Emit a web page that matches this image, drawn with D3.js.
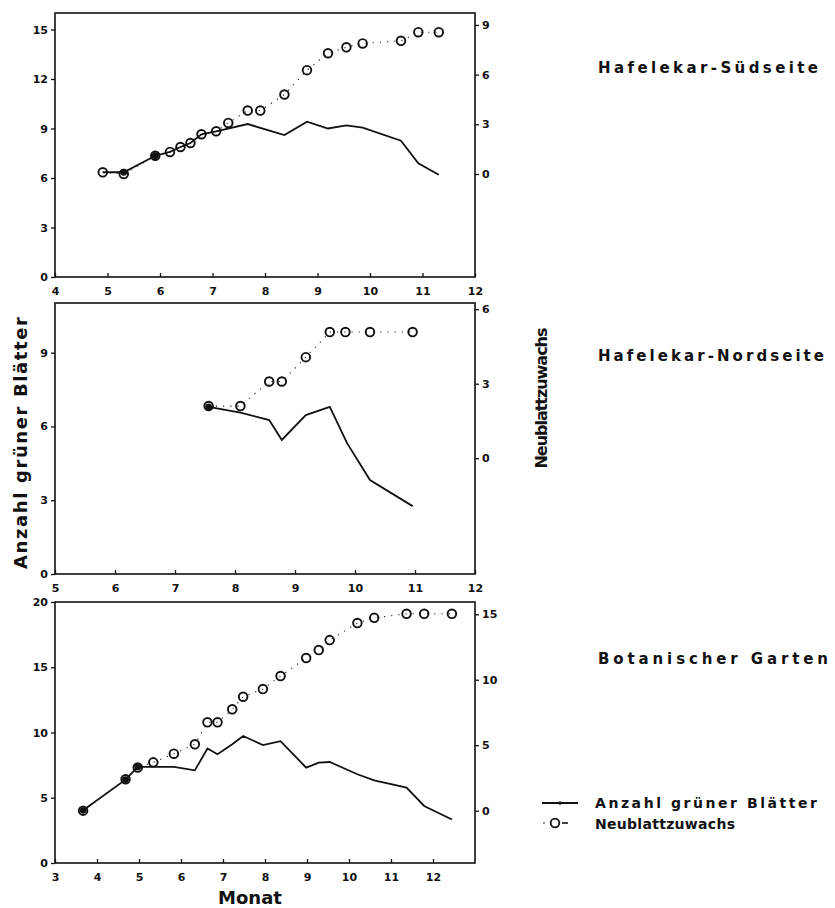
<!DOCTYPE html>
<html><head><meta charset="utf-8">
<script src="https://cdn.jsdelivr.net/npm/d3@7"></script>
<style>
body{margin:0;background:#fff;}
svg{display:block;}
text{font-family:"DejaVu Sans","Liberation Sans",Arial,sans-serif;fill:#111;}
</style></head>
<body><svg id="c" width="835" height="908"></svg>
<script>
// ---------- DATA ----------
// Hafelekar-Südseite
const topLineMonths = [4.91,5.31,5.91,6.19,6.39,6.58,6.79,7.07,7.67,8.37,8.80,9.20,9.55,9.86,10.59,10.92,11.31];
const topLineValues = [6.35,6.35,7.35,7.58,7.88,8.12,8.65,8.83,9.27,8.6,9.41,9.0,9.19,9.05,8.26,6.89,6.2];
const topNewMonths  = [4.91,5.31,5.91,6.19,6.39,6.58,6.79,7.07,7.30,7.67,7.91,8.37,8.80,9.20,9.55,9.86,10.59,10.92,11.31];
const topNewValues  = [0.1,0.0,1.1,1.33,1.63,1.87,2.4,2.58,3.08,3.83,3.83,4.8,6.27,7.29,7.65,7.88,8.04,8.56,8.56];
const topSolid = [5.31,5.91];
// Hafelekar-Nordseite
const midLineMonths = [7.56,8.09,8.57,8.78,9.18,9.58,9.87,10.25,10.96];
const midLineValues = [6.8,6.56,6.26,5.45,6.46,6.8,5.31,3.82,2.76];
const midNewMonths  = [7.56,8.09,8.57,8.78,9.18,9.58,9.84,10.25,10.96];
const midNewValues  = [2.1,2.1,3.09,3.09,4.07,5.08,5.08,5.08,5.08];
const midSolid = [7.56];
// Botanischer Garten
const botLineMonths = [3.67,4.68,4.97,5.83,6.33,6.63,6.87,7.22,7.48,7.95,8.37,8.98,9.28,9.54,10.2,10.6,11.37,11.79,12.45];
const botLineValues = [4.04,6.39,7.36,7.36,7.1,8.77,8.33,9.1,9.73,9.04,9.33,7.31,7.69,7.74,6.8,6.34,5.78,4.37,3.33];
const botNewMonths  = [3.67,4.68,4.97,5.34,5.83,6.33,6.63,6.87,7.22,7.48,7.95,8.37,8.98,9.28,9.54,10.2,10.6,11.37,11.79,12.45];
const botNewValues  = [0.0,2.4,3.3,3.69,4.35,5.07,6.75,6.75,7.74,8.7,9.29,10.28,11.66,12.27,13.03,14.33,14.73,15.04,15.04,15.04];
const botSolid = [3.67,4.68,4.97];
// Ticks
const topXTicks = [4,5,6,7,8,9,10,11,12], topLTicks = [0,3,6,9,12,15], topRTicks = [0,3,6,9];
const midXTicks = [5,6,7,8,9,10,11,12], midLTicks = [0,3,6,9], midRTicks = [0,3,6];
const botXTicks = [3,4,5,6,7,8,9,10,11,12], botLTicks = [0,5,10,15,20], botRTicks = [0,5,10,15];
const titles = ["Hafelekar-Südseite","Hafelekar-Nordseite","Botanischer Garten"];
const legendLabels = ["Anzahl grüner Blätter","Neublattzuwachs"];

// ---------- LAYOUT ----------
const svg = d3.select("#c");
const X0 = 55, X1 = 475;
const panels = [
  {t:13, b:277, xd:[4,12], ld:[0,16], rd:[-6.22,9.72], xt:topXTicks, lt:topLTicks, rt:topRTicks,
   lm:topLineMonths, lv:topLineValues, nm:topNewMonths, nv:topNewValues, solid:topSolid,
   title:titles[0], ty:73, tw:220},
  {t:303, b:574, xd:[5,12], ld:[0,11.02], rd:[-4.66,6.25], xt:midXTicks, lt:midLTicks, rt:midRTicks,
   lm:midLineMonths, lv:midLineValues, nm:midNewMonths, nv:midNewValues, solid:midSolid,
   title:titles[1], ty:361, tw:226},
  {t:602, b:863, xd:[3,13], ld:[0,20], rd:[-4.0,15.94], xt:botXTicks, lt:botLTicks, rt:botRTicks,
   lm:botLineMonths, lv:botLineValues, nm:botNewMonths, nv:botNewValues, solid:botSolid,
   title:titles[2], ty:664, tw:230}
];

panels.forEach(p => {
  const x = d3.scaleLinear().domain(p.xd).range([X0, X1]);
  const yl = d3.scaleLinear().domain(p.ld).range([p.b, p.t]);
  const yr = d3.scaleLinear().domain(p.rd).range([p.b, p.t]);
  const g = svg.append("g");

  const ax = d3.axisBottom(x).tickValues(p.xt).tickSize(-4).tickPadding(10).tickFormat(d3.format("d"));
  const al = d3.axisLeft(yl).tickValues(p.lt).tickSize(4).tickPadding(3).tickFormat(d3.format("d"));
  const ar = d3.axisRight(yr).tickValues(p.rt).tickSize(4).tickPadding(3).tickFormat(d3.format("d"));
  [[ax,`translate(0,${p.b})`],[al,`translate(${X0},0)`],[ar,`translate(${X1},0)`]].forEach(([a,tr]) => {
    const gg = g.append("g").attr("transform", tr).call(a);
    gg.select(".domain").remove();
    gg.selectAll("line").attr("stroke","#111").attr("stroke-width",1.3);
    gg.selectAll("text").attr("font-size",11).attr("font-weight","bold")
      .style("font-family","DejaVu Sans, Liberation Sans, sans-serif").attr("fill","#111");
  });
  g.append("rect").attr("x",X0).attr("y",p.t).attr("width",X1-X0).attr("height",p.b-p.t)
    .attr("fill","none").attr("stroke","#111").attr("stroke-width",1.6);

  const nd = p.nm.map((m,i)=>[m,p.nv[i]]);
  g.append("path").datum(nd)
    .attr("d", d3.line().x(d=>x(d[0])).y(d=>yr(d[1])))
    .attr("fill","none").attr("stroke","#222").attr("stroke-width",1.1).attr("stroke-dasharray","1.2,6");
  const ld = p.lm.map((m,i)=>[m,p.lv[i]]);
  g.append("path").datum(ld)
    .attr("d", d3.line().x(d=>x(d[0])).y(d=>yl(d[1])))
    .attr("fill","none").attr("stroke","#111").attr("stroke-width",1.8).attr("stroke-linejoin","miter");
  g.selectAll("circle.n").data(nd).join("circle").attr("class","n")
    .attr("cx",d=>x(d[0])).attr("cy",d=>yr(d[1])).attr("r",4.3)
    .attr("fill","#fff").attr("fill-opacity",0).attr("stroke","#111").attr("stroke-width",1.9);
  g.selectAll("circle.s").data(p.solid.map(m=>[m,p.lv[p.lm.indexOf(m)]])).join("circle").attr("class","s")
    .attr("cx",d=>x(d[0])).attr("cy",d=>yl(d[1])).attr("r",3.4).attr("fill","#111");

  svg.append("text").attr("x",598).attr("y",p.ty).attr("font-size",15).attr("font-weight","bold")
    .attr("textLength",p.tw).attr("lengthAdjust","spacing").text(p.title);
});

svg.append("text").attr("transform","translate(27,443) rotate(-90)").attr("text-anchor","middle")
  .attr("font-size",18).attr("font-weight","bold").attr("textLength",252).attr("lengthAdjust","spacing")
  .text("Anzahl grüner Blätter");
svg.append("text").attr("transform","translate(547,398) rotate(-90)").attr("text-anchor","middle")
  .attr("font-size",16).attr("font-weight","bold").attr("textLength",141).attr("lengthAdjust","spacing")
  .text("Neublattzuwachs");
svg.append("text").attr("x",250).attr("y",904).attr("text-anchor","middle")
  .attr("font-size",18).attr("font-weight","bold").text("Monat");

const lg = svg.append("g");
lg.append("line").attr("x1",542).attr("x2",578).attr("y1",803).attr("y2",803).attr("stroke","#111").attr("stroke-width",2);
lg.append("circle").attr("cx",560).attr("cy",803).attr("r",1.8).attr("fill","#111");
lg.append("circle").attr("cx",544).attr("cy",823).attr("r",0.8).attr("fill","#111");
lg.append("circle").attr("cx",555).attr("cy",823).attr("r",4.3).attr("fill","none").attr("stroke","#111").attr("stroke-width",1.8);
lg.append("line").attr("x1",562).attr("x2",568).attr("y1",823).attr("y2",823).attr("stroke","#111").attr("stroke-width",1.6);
lg.selectAll("text").data(legendLabels).join("text")
  .attr("x",595).attr("y",(d,i)=>808+i*21).attr("font-size",14).attr("font-weight","bold")
  .attr("textLength",(d,i)=>i===0?222:140).attr("lengthAdjust","spacing").text(d=>d);
</script></body></html>
